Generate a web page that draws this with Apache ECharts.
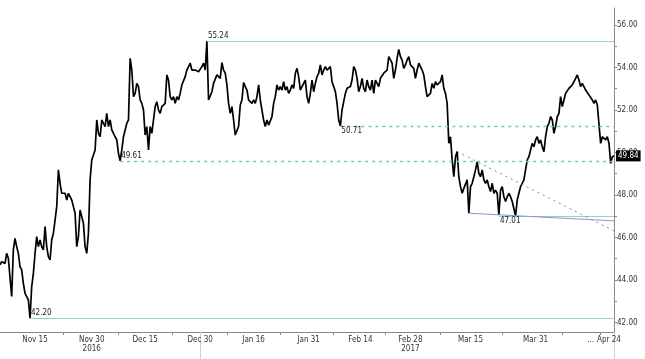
<!DOCTYPE html>
<html><head><meta charset="utf-8">
<script src="https://cdn.jsdelivr.net/npm/echarts@6/dist/echarts.min.js"></script>
<style>html,body{margin:0;padding:0;background:#fff}#c{width:645px;height:359px}</style>
</head><body><div id="c"></div>
<script>
// Price path, split by section
const novDec = [44.71,44.86,44.94,44.78,45.25,45.02,45.10,43.22,45.41,45.96,
45.57,45.25,44.63,44.47,43.84,43.37,43.22,43.06,42.20,43.69,
44.31,45.25,46.04,45.57,45.88,45.57,45.41,46.51,45.57,45.10,
44.94,45.88,46.20,46.82,47.45,49.18,48.55,48.08,48.00,48.08,
47.76,48.08,47.92,47.76,47.45,47.14,45.57,46.04,47.29,46.98,
46.67,45.57,45.25,46.20,48.71,49.65,49.65,50.12,51.53,50.90,
50.74,51.53,51.37,51.22];
const decEnd = [51.84,51.22,51.53,51.06,50.90,50.74,50.59,49.96,49.61,50.12,
50.74,51.06,51.37,51.53,54.43,53.88,52.63,52.78,53.25,53.10,
52.47,52.31,52.00,50.82,51.22,50.12,51.22,50.90,51.53,52.16,
52.39,52.00,51.84,52.16,52.23,52.31,53.65,53.41,52.63,52.47,
52.63,52.31,52.63,52.47,52.78,53.18,53.25,53.57,53.88,54.04,
54.20,53.88,53.96,53.88,53.96,53.80,53.88,54.04,54.20,53.88];
const jan = [55.24,52.47,52.55,52.86,53.25,53.18,53.65,53.73,53.49,54.23,
53.88,53.73,53.18,52.31,51.84,52.16,51.53,50.82,50.82,51.22,
52.23,52.47,53.29,53.10,52.94,52.47,52.47,52.31,52.47,52.31,
52.63,53.18,52.47,52.47,51.53,51.22,51.53,51.29,51.37,51.69,
52.31,52.63,53.18,52.94,53.10,52.94,53.33,52.94,53.10,52.78,
52.94,53.18,53.02,53.73,53.96,53.57,52.94,53.10,53.25,53.41];
const feb = [52.63,52.31,52.78,53.41,52.86,53.25,53.57,53.73,54.12,53.65,
53.88,54.04,53.88,53.96,54.04,53.33,53.10,52.86,52.31,51.53,
51.25,52.00,52.39,52.78,53.02,53.02,53.10,53.41,54.04,53.88,
53.49,52.86,53.10,53.49,53.02,52.86,53.41,53.10,52.94,53.41,
52.78,53.41,53.33,53.10,53.49,53.57,53.73,53.65,53.88,54.51,
54.59,54.20,53.49,53.88,54.43,54.85,54.51,54.35,53.96,54.12];
const mar = [54.35,54.51,54.12,54.04,53.96,53.49,53.88,54.20,54.27,53.88,
53.65,53.10,52.63,52.71,52.78,53.25,53.02,53.33,53.18,53.10,
53.33,53.65,53.02,52.78,52.31,50.43,50.74,49.65,48.86,49.80,
50.04,48.86,48.39,48.08,48.31,48.39,48.71,47.14,48.39,48.55,
48.86,49.18,49.57,49.02,48.86,49.18,48.71,48.55,48.71,48.39,
48.16,48.55,48.08,48.23,48.08,47.06,48.23,48.39,47.92,47.69];
const apr = [47.92,48.08,47.92,47.69,47.61,47.01,47.76,48.08,48.39,48.55,
48.71,49.18,49.65,49.80,50.12,50.43,50.27,50.59,50.74,50.43,
50.59,50.27,50.04,50.74,51.22,51.37,51.69,51.53,50.90,51.22,
51.69,51.84,52.63,52.16,52.47,52.78,52.86,53.02,53.10,53.18,
53.25,53.49,53.65,53.41,53.10,53.25,53.18,52.94,52.86,52.71,
52.63,52.47,52.31,52.47,52.23,52.31,50.43,50.74,50.82,50.59,
50.74,50.43,49.49,49.80,49.84];
const prices = [].concat(novDec, decEnd, jan, feb, mar, apr);
const steps = prices.map((_, i) => String(i));

// x-axis tick labels (bar index -> text)
const labelIdx = [21,55,87,120,152,185,216,246,282,321,354,365];
const labelText = ['Nov 15','Nov 30\n2016','Dec 15','Dec 30','Jan 16','Jan 31','Feb 14','Feb 28\n2017','Mar 15','Mar 31','...','Apr 24'];
const tickIdx = [38,71,103,136,168,200,231,264,301,337,360];
const yearSepIdx = [120,368];

// y-axis ticks
const yLabels = [42,44,46,48,50,52,54,56];
const yTicks = [42,43,44,45,46,47,48,49,50,51,52,53,54,55,56];

// annotation levels: [startIndex, value, label]
const levelHigh = [124, 55.24, '55.24'];
const levelLow = [18, 42.20, '42.20'];
const levelSupport = [72, 49.61, '49.61'];
const levelResist = [204, 51.25, '50.71'];
const levelMarch = [299, 47.01, '47.01'];
const trendLows = [[281, 47.14], [368, 46.78]];
const trendHighs = [[274, 50.04], [368, 46.31]];

const FONT = "'Liberation Sans Narrow','DejaVu Sans Condensed','Liberation Sans',sans-serif";
const last = prices.length - 1;
const teal = '#8fd6ba', tealDash = '#7ccbaa', blue = '#8a94cc', blueDot = '#7a86c8';

function hLine(lv, style, pos) {
  return [{coord: [lv[0], lv[1]], lineStyle: style,
           label: {show: true, formatter: lv[2], position: pos, distance: 1,
                   fontSize: 8, color: '#222', fontFamily: FONT}},
          {coord: [last, lv[1]]}];
}
function tLine(tl, style) {
  return [{coord: tl[0], lineStyle: style, label: {show: false}}, {coord: tl[1]}];
}

const chart = echarts.init(document.getElementById('c'), null, {renderer: 'canvas'});
chart.setOption({
  animation: false,
  backgroundColor: '#fff',
  grid: {left: 0, right: 31, top: 8, bottom: 27},
  xAxis: [{
    type: 'category', data: steps, boundaryGap: false,
    axisLine: {lineStyle: {color: '#888', width: 1}},
    axisTick: {show: true, length: 3, interval: (i) => tickIdx.includes(i), lineStyle: {color: '#888'}},
    axisLabel: {interval: (i) => labelIdx.includes(i),
      formatter: (v, i) => labelText[labelIdx.indexOf(i)] || '',
      fontSize: 8, color: '#333', margin: 3, lineHeight: 9, fontFamily: FONT},
    splitLine: {show: false}
  }, {
    type: 'category', data: steps, boundaryGap: false, position: 'bottom',
    axisLine: {show: false},
    axisTick: {show: true, length: 27, interval: (i) => yearSepIdx.includes(i), lineStyle: {color: '#d0d0d0'}},
    axisLabel: {show: false}, splitLine: {show: false}
  }],
  yAxis: {
    type: 'value', position: 'right', min: 41.55, max: 56.8, scale: true,
    splitLine: {show: false},
    axisLine: {show: true, lineStyle: {color: '#888'}},
    axisTick: {show: true, length: 3, customValues: yTicks, lineStyle: {color: '#888'}},
    axisLabel: {customValues: yLabels, formatter: (v) => v.toFixed(2),
      fontSize: 8, color: '#333', margin: 3, fontFamily: FONT}
  },
  series: [{
    type: 'line', data: prices, showSymbol: false, symbol: 'none',
    lineStyle: {color: '#000', width: 1.7},
    endLabel: {show: true, formatter: (p) => p.value.toFixed(2),
      backgroundColor: '#000', color: '#fff', fontSize: 8, padding: [2, 2, 1, 2],
      distance: 2, fontFamily: FONT},
    markLine: {
      silent: true, symbol: ['none', 'none'], animation: false,
      data: [
        hLine(levelHigh, {color: teal, type: 'solid', width: 1.2}, 'insideStartTop'),
        hLine(levelLow, {color: teal, type: 'solid', width: 1.2}, 'insideStartTop'),
        hLine(levelSupport, {color: tealDash, type: [3, 4], width: 1.3}, 'insideStartTop'),
        hLine(levelResist, {color: tealDash, type: [3, 4], width: 1.3}, 'insideStartBottom'),
        hLine(levelMarch, {color: teal, type: 'solid', width: 1.2}, 'insideStartBottom'),
        tLine(trendLows, {color: blue, type: 'solid', width: 1}),
        tLine(trendHighs, {color: blueDot, type: [2, 4], width: 1})
      ]
    }
  }]
});
</script></body></html>
